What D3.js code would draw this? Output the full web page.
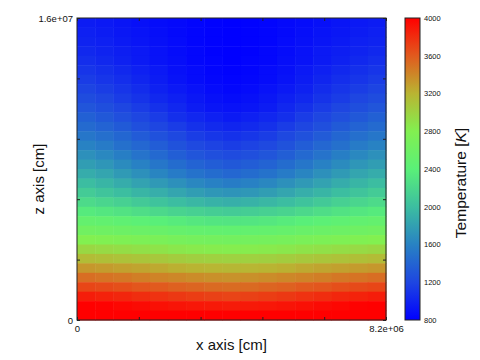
<!DOCTYPE html>
<html><head><meta charset="utf-8">
<script src="https://cdn.jsdelivr.net/npm/d3@7"></script>
<style>body{margin:0;background:#fff}svg{display:block}text{font-family:"Liberation Sans",Arial,sans-serif;fill:#111}</style>
</head><body><svg id="c" width="480" height="360"></svg>
<script>
// ---- data ----
const xDomain = [0, 8.2e6];
const zDomain = [0, 1.6e7];
const xTickValues = [0, 1.64e6, 3.28e6, 4.92e6, 6.56e6, 8.2e6];
const zTickValues = [0, 3.2e6, 6.4e6, 9.6e6, 1.28e7, 1.6e7];
const xTickLabels = ["0", "8.2e+06"];
const zTickLabels = ["0", "1.6e+07"];
const cbTickValues = [800, 1200, 1600, 2000, 2400, 2800, 3200, 3600, 4000];
const colorStops = [800, 1200, 1600, 2000, 2400, 2800, 3200, 3600, 4000];
const colorValues = ["#0000ff", "#1e46e1", "#2882c3", "#3cbea0", "#5af078", "#82f050", "#b9b432", "#e15a1e", "#ff0000"];
// temperature [K], rows from top (z = max) to bottom (z = 0), 17 columns along x
const temperature = [
 [960,940,920,890,870,850,830,810,800,810,830,850,870,890,920,940,960],
 [980,960,930,910,880,850,830,810,800,810,830,850,880,910,930,960,980],
 [1000,980,950,920,890,860,830,810,800,810,830,860,890,920,950,980,1000],
 [1030,1000,970,940,900,870,840,810,800,810,840,870,900,940,970,1000,1030],
 [1060,1030,990,950,910,880,840,820,800,820,840,880,910,950,990,1030,1060],
 [1100,1070,1030,980,940,890,860,830,810,830,860,890,940,980,1030,1070,1100],
 [1140,1100,1060,1010,960,910,870,840,820,840,870,910,960,1010,1060,1100,1140],
 [1190,1150,1100,1050,990,940,900,860,840,860,900,940,990,1050,1100,1150,1190],
 [1240,1200,1140,1090,1030,980,930,890,870,890,930,980,1030,1090,1140,1200,1240],
 [1300,1250,1200,1140,1080,1020,960,920,900,920,960,1020,1080,1140,1200,1250,1300],
 [1370,1320,1260,1200,1140,1070,1020,980,950,980,1020,1070,1140,1200,1260,1320,1370],
 [1440,1390,1330,1260,1200,1140,1080,1040,1010,1040,1080,1140,1200,1260,1330,1390,1440],
 [1520,1470,1410,1340,1270,1210,1150,1110,1080,1110,1150,1210,1270,1340,1410,1470,1520],
 [1600,1550,1480,1420,1350,1280,1220,1180,1150,1180,1220,1280,1350,1420,1480,1550,1600],
 [1690,1640,1570,1500,1430,1360,1300,1260,1230,1260,1300,1360,1430,1500,1570,1640,1690],
 [1780,1730,1660,1590,1520,1450,1390,1350,1320,1350,1390,1450,1520,1590,1660,1730,1780],
 [1880,1830,1760,1690,1620,1550,1490,1450,1420,1450,1490,1550,1620,1690,1760,1830,1880],
 [1990,1940,1880,1810,1750,1690,1630,1590,1560,1590,1630,1690,1750,1810,1880,1940,1990],
 [2100,2050,2000,1940,1890,1830,1780,1740,1720,1740,1780,1830,1890,1940,2000,2050,2100],
 [2220,2180,2140,2090,2040,1990,1950,1920,1900,1920,1950,1990,2040,2090,2140,2180,2220],
 [2350,2320,2290,2250,2210,2170,2140,2120,2100,2120,2140,2170,2210,2250,2290,2320,2350],
 [2500,2480,2450,2420,2390,2360,2330,2310,2300,2310,2330,2360,2390,2420,2450,2480,2500],
 [2630,2610,2590,2570,2550,2520,2500,2490,2480,2490,2500,2520,2550,2570,2590,2610,2630],
 [2800,2780,2760,2740,2720,2690,2670,2660,2650,2660,2670,2690,2720,2740,2760,2780,2800],
 [2970,2950,2930,2910,2890,2860,2840,2830,2820,2830,2840,2860,2890,2910,2930,2950,2970],
 [3150,3130,3110,3090,3070,3040,3020,3010,3000,3010,3020,3040,3070,3090,3110,3130,3150],
 [3330,3310,3290,3270,3250,3220,3200,3190,3180,3190,3200,3220,3250,3270,3290,3310,3330],
 [3510,3490,3470,3440,3420,3400,3380,3360,3350,3360,3380,3400,3420,3440,3470,3490,3510],
 [3690,3670,3650,3620,3600,3570,3550,3530,3520,3530,3550,3570,3600,3620,3650,3670,3690],
 [3870,3850,3830,3800,3780,3750,3730,3710,3700,3710,3730,3750,3780,3800,3830,3850,3870],
 [4000,3990,3970,3950,3930,3910,3900,3890,3880,3890,3900,3910,3930,3950,3970,3990,4000],
 [4000,4000,4000,4000,4000,4000,4000,4000,4000,4000,4000,4000,4000,4000,4000,4000,4000]
];

// ---- layout ----
const svg = d3.select("#c");
const P = {left: 77, right: 386, top: 18, bottom: 320};
const CB = {left: 405, right: 420};
const x = d3.scaleLinear().domain(xDomain).range([P.left, P.right]);
const z = d3.scaleLinear().domain(zDomain).range([P.bottom, P.top]);
const color = d3.scaleLinear().domain(colorStops).range(colorValues).clamp(true);

const nRows = temperature.length, nCols = temperature[0].length;
const dx = (xDomain[1] - xDomain[0]) / nCols;
const dz = (zDomain[1] - zDomain[0]) / nRows;

const cells = [];
temperature.forEach((row, i) => row.forEach((t, j) => {
  const zTop = zDomain[1] - i * dz;
  cells.push({x0: xDomain[0] + j * dx, x1: xDomain[0] + (j + 1) * dx, z0: zTop - dz, z1: zTop, t});
}));

svg.append("g").selectAll("rect").data(cells).join("rect")
  .attr("x", d => x(d.x0))
  .attr("y", d => z(d.z1))
  .attr("width", d => x(d.x1) - x(d.x0) + 0.5)
  .attr("height", d => z(d.z0) - z(d.z1) + 0.5)
  .attr("fill", d => color(d.t));

// frame
svg.append("rect").attr("x", P.left).attr("y", P.top)
  .attr("width", P.right - P.left).attr("height", P.bottom - P.top)
  .attr("fill", "none").attr("stroke", "#222").attr("stroke-width", 1);

function styleAxis(g) {
  g.select(".domain").remove();
  g.selectAll(".tick line").attr("stroke", "#222");
  g.selectAll(".tick text").attr("font-size", 9.5).attr("fill", "#111")
   .attr("font-family", '"Liberation Sans",Arial,sans-serif');
}
const xFmt = v => v === xDomain[0] ? xTickLabels[0] : (v === xDomain[1] ? xTickLabels[1] : "");
const zFmt = v => v === zDomain[0] ? zTickLabels[0] : (v === zDomain[1] ? zTickLabels[1] : "");

svg.append("g").attr("transform", `translate(0,${P.bottom})`)
  .call(d3.axisBottom(x).tickValues(xTickValues).tickSizeInner(-3).tickSizeOuter(0).tickPadding(5).tickFormat(xFmt))
  .call(styleAxis);
svg.append("g").attr("transform", `translate(0,${P.top})`)
  .call(d3.axisTop(x).tickValues(xTickValues).tickSizeInner(-3).tickSizeOuter(0).tickFormat(""))
  .call(styleAxis);
svg.append("g").attr("transform", `translate(${P.left},0)`)
  .call(d3.axisLeft(z).tickValues(zTickValues).tickSizeInner(-3).tickSizeOuter(0).tickPadding(4).tickFormat(zFmt))
  .call(styleAxis);
svg.append("g").attr("transform", `translate(${P.right},0)`)
  .call(d3.axisRight(z).tickValues(zTickValues).tickSizeInner(-3).tickSizeOuter(0).tickFormat(""))
  .call(styleAxis);

// axis titles
svg.append("text").attr("x", (P.left + P.right) / 2).attr("y", 350)
  .attr("text-anchor", "middle").attr("font-size", 15).text("x axis [cm]");
svg.append("text").attr("transform", `translate(44,${(P.top + P.bottom) / 2 + 10}) rotate(-90)`)
  .attr("text-anchor", "middle").attr("font-size", 15).text("z axis [cm]");

// colorbar
const cbScale = d3.scaleLinear().domain([colorStops[0], colorStops[colorStops.length - 1]]).range([P.bottom, P.top]);
const grad = svg.append("defs").append("linearGradient").attr("id", "cbg")
  .attr("x1", 0).attr("y1", 1).attr("x2", 0).attr("y2", 0);
grad.selectAll("stop").data(colorStops).join("stop")
  .attr("offset", d => (d - colorStops[0]) / (colorStops[colorStops.length - 1] - colorStops[0]))
  .attr("stop-color", d => color(d));
svg.append("rect").attr("x", CB.left).attr("y", P.top)
  .attr("width", CB.right - CB.left).attr("height", P.bottom - P.top)
  .attr("fill", "url(#cbg)").attr("stroke", "#222").attr("stroke-width", 1);
svg.append("g").attr("transform", `translate(${CB.right},0)`)
  .call(d3.axisRight(cbScale).tickValues(cbTickValues).tickSize(0).tickPadding(4).tickFormat(d3.format("d")))
  .call(styleAxis)
  .call(g => g.selectAll(".tick text").attr("font-size", 7.5));
const cbt = svg.append("text").attr("transform", `translate(466,${(P.top + P.bottom) / 2 + 14}) rotate(-90)`)
  .attr("text-anchor", "middle").attr("font-size", 15.5);
cbt.append("tspan").text("Temperature [");
cbt.append("tspan").attr("font-style", "italic").text("K");
cbt.append("tspan").text("]");
</script>
</body></html>
